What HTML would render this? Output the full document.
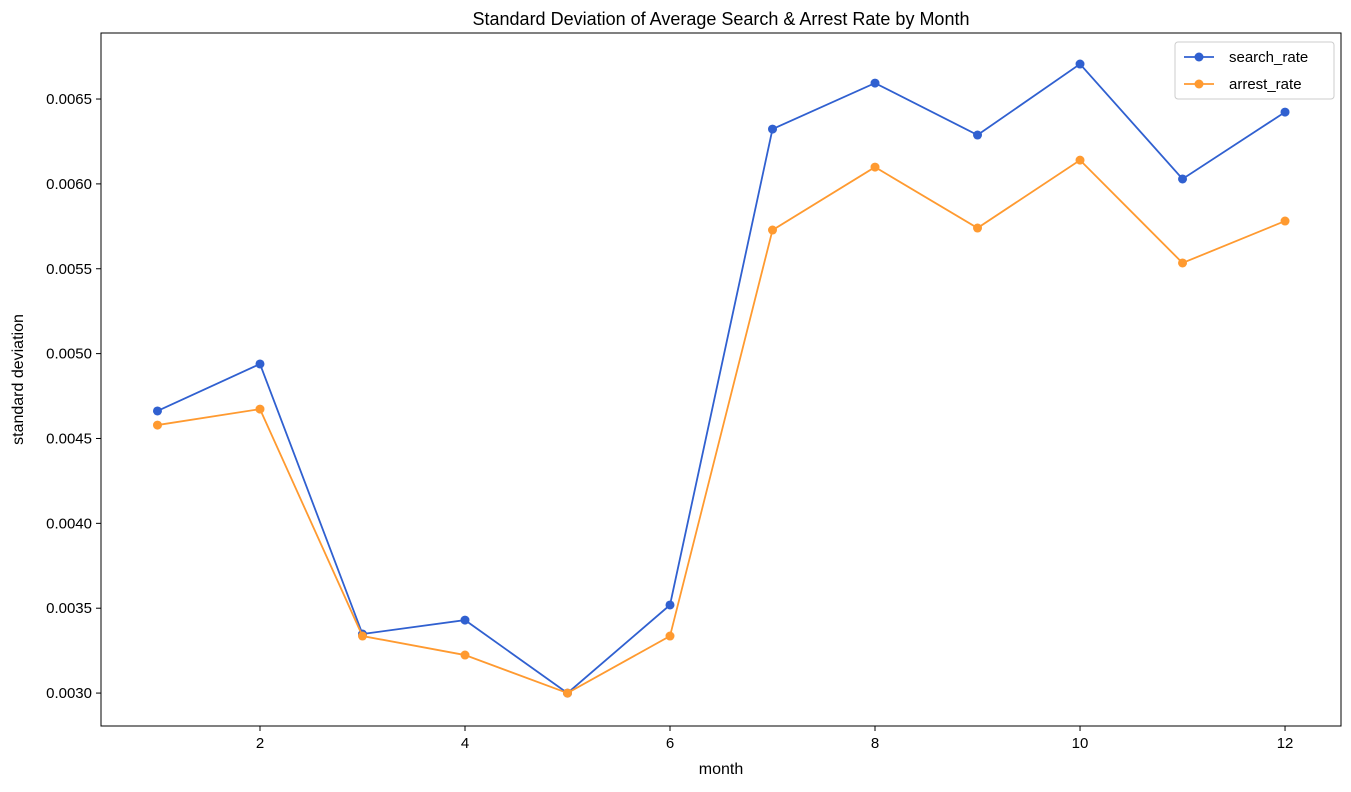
<!DOCTYPE html>
<html><head><meta charset="utf-8"><style>
html,body{margin:0;padding:0;background:#fff;}
svg text{font-family:"Liberation Sans","DejaVu Sans",sans-serif;fill:#000;}
</style></head><body>
<svg id="chart" width="1351" height="787" xmlns="http://www.w3.org/2000/svg"></svg>
<script>
const months = [1,2,3,4,5,6,7,8,9,10,11,12];
const searchRate = [0.004662,0.004939,0.003348,0.00343,0.0030,0.003519,0.006323,0.006594,0.006288,0.006706,0.006029,0.006423];
const arrestRate = [0.004579,0.004673,0.003336,0.003224,0.0030,0.003336,0.005728,0.006099,0.00574,0.00614,0.005534,0.005781];
const xTicks = [2,4,6,8,10,12];
const yTicks = [0.0030,0.0035,0.0040,0.0045,0.0050,0.0055,0.0060,0.0065];
const yTickLabels = ["0.0030","0.0035","0.0040","0.0045","0.0050","0.0055","0.0060","0.0065"];

const L=101,R=1341,T=33,B=726;
const xMin=0.449,xMax=12.546,yMin=0.002806,yMax=0.006889;
const xs=v=>L+(v-xMin)/(xMax-xMin)*(R-L);
const ys=v=>B-(v-yMin)/(yMax-yMin)*(B-T);
const svg=document.getElementById('chart');
const NS='http://www.w3.org/2000/svg';
function mk(tag,attrs,parent){const e=document.createElementNS(NS,tag);for(const k in attrs)e.setAttribute(k,attrs[k]);(parent||svg).appendChild(e);return e;}

const title=mk('text',{x:721,y:25,'text-anchor':'middle','font-size':18});
title.textContent='Standard Deviation of Average Search & Arrest Rate by Month';



const frame=mk('rect',{x:L,y:T,width:R-L,height:B-T,fill:'none',stroke:'#000','stroke-width':1});



xTicks.forEach(t=>{
  const x=xs(t);
  const tk=mk('line',{x1:x,x2:x,y1:B,y2:B+5,stroke:'#000'});
  
  
  const lb=mk('text',{x:x,y:B+22,'text-anchor':'middle','font-size':15});
  lb.textContent=t;
  
  
});
yTicks.forEach((t,i)=>{
  const y=ys(t);
  const tk=mk('line',{x1:L-5,x2:L,y1:y,y2:y,stroke:'#000'});
  
  
  const lb=mk('text',{x:L-9,y:y+5,'text-anchor':'end','font-size':15});
  lb.textContent=yTickLabels[i];
  
  
});
const xt=mk('text',{x:(L+R)/2,y:774,'text-anchor':'middle','font-size':16});
xt.textContent='month';


const yt=mk('text',{x:0,y:0,'text-anchor':'middle','font-size':16,transform:`translate(23,${(T+B)/2}) rotate(-90)`});
yt.textContent='standard deviation';



function series(vals,color,name){
  const g=mk('g',{});
  
  
  const pts=vals.map((v,i)=>xs(months[i])+','+ys(v)).join(' ');
  const pl=mk('polyline',{points:pts,fill:'none',stroke:color,'stroke-width':1.8},g);
  
  
  vals.forEach((v,i)=>{
    const c=mk('circle',{cx:xs(months[i]),cy:ys(v),r:4.5,fill:color},g);
    
    
  });
}
series(searchRate,'#3060d0','search-rate');
series(arrestRate,'#ff9a30','arrest-rate');

const lg=mk('g',{});


mk('rect',{x:1175,y:42,width:159,height:57,rx:3,fill:'#fff',stroke:'#ccc'},lg);
[['search_rate','#3060d0',57],['arrest_rate','#ff9a30',84]].forEach(([t,c,y])=>{
  const e=mk('g',{},lg);
  
  
  mk('line',{x1:1184,x2:1214,y1:y,y2:y,stroke:c,'stroke-width':1.8},e);
  mk('circle',{cx:1199,cy:y,r:4.5,fill:c},e);
  const tx=mk('text',{x:1229,y:y+5,'font-size':15},e);
  tx.textContent=t;
});
</script>
</body></html>
